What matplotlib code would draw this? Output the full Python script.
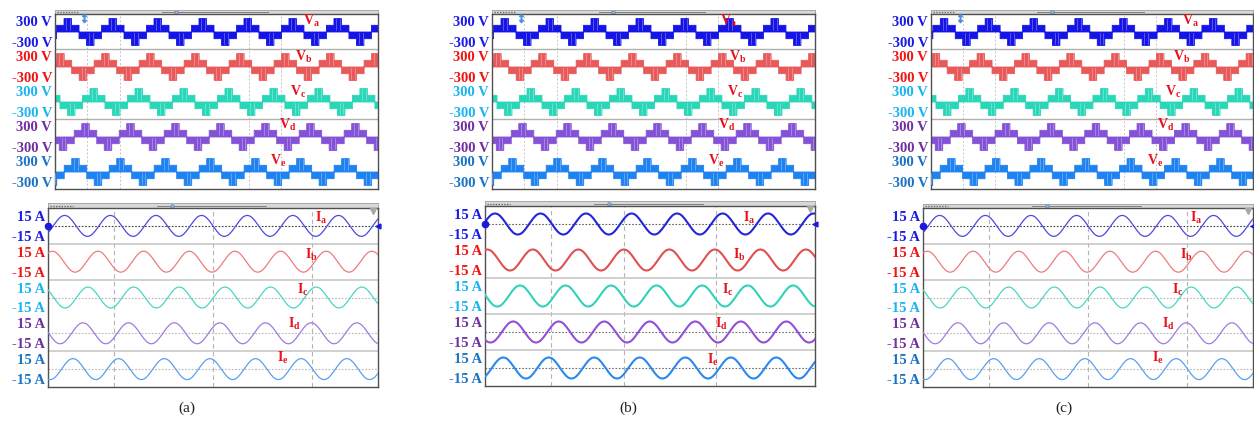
import numpy as np
import matplotlib
matplotlib.use("Agg")
import matplotlib.pyplot as plt
from matplotlib.colors import to_rgb

plt.rcParams['font.family'] = ['Liberation Serif', 'DejaVu Serif']
plt.rcParams['mathtext.fontset'] = 'custom'
plt.rcParams['mathtext.rm'] = 'Liberation Serif'
plt.rcParams['mathtext.bf'] = 'Liberation Serif:bold'

# ------------------------------------------------------------------ data
panel_names = ['(a)', '(b)', '(c)']
phase_names = ['a', 'b', 'c', 'd', 'e']
volt_tick_values = [300, -300]
volt_tick_labels = ['300 V', '-300 V']
curr_tick_values = [15, -15]
curr_tick_labels = ['15 A', '-15 A']

period_ms = 20.0
volt_periods_in_window = [7.18, 7.18, 7.18]
curr_periods_in_window = [7.23, 7.25, 7.23]

# five-level staircase, one fundamental period in 24 slots (levels in units of one cell step)
volt_step_V = 200.0
volt_levels = [1, 1, 1, 1, 2, 2, 2, 2, 1, 1, 1, 1,
               -1, -1, -1, -1, -2, -2, -2, -2, -1, -1, -1, -1]

# phase current, one period sampled every 10 degrees (per unit)
curr_amp_A = 16.0
curr_shape = [0.0, 0.17, 0.34, 0.5, 0.64, 0.77, 0.87, 0.94, 0.98,
              1.0, 0.98, 0.94, 0.87, 0.77, 0.64, 0.5, 0.34, 0.17,
              0.0, -0.17, -0.34, -0.5, -0.64, -0.77, -0.87, -0.94, -0.98,
              -1.0, -0.98, -0.94, -0.87, -0.77, -0.64, -0.5, -0.34, -0.17]

# position of the first positive peak after the left edge (fraction of a period)
volt_peak = {'(a)': [0.273, 0.11, 0.85, 0.667, 0.444],
             '(b)': [0.273, 0.11, 0.85, 0.667, 0.444],
             '(c)': [0.28, 0.10, 0.85, 0.667, 0.444]}
curr_peak = {'(a)': [0.365, 0.095, 0.876, 0.766, 0.547],
             '(b)': [0.22, 0.05, 0.77, 0.62, 0.40],
             '(c)': [0.365, 0.095, 0.876, 0.766, 0.547]}

# ------------------------------------------------------------------ style / layout
W, H = 1254, 422
fig = plt.figure(figsize=(W / 100, H / 100), dpi=100)

label_colors = ['#1a1ae8', '#f01414', '#1ab4f0', '#7030a0', '#1a72c4']
volt_colors = ['#1414e6', '#e85a5a', '#2ad6b8', '#8452d6', '#1e82f0']
curr_colors = {'(a)': ['#4a4ae0', '#ee7c7c', '#4ad6c4', '#a07ae0', '#5aa0ee'],
               '(b)': ['#2424dc', '#e05050', '#30d2b8', '#9050d8', '#2a88ee'],
               '(c)': ['#4a4ae0', '#ee7c7c', '#4ad6c4', '#a07ae0', '#5aa0ee']}
curr_lw = {'(a)': 0.9, '(b)': 1.5, '(c)': 0.9}
name_color = '#e8101a'

volt_band = 1045.0
curr_band = 54.6

# pixel boxes: (left, header_top, plot_top, right, bottom)
volt_box = {'(a)': (55, 10, 14, 378, 189),
            '(b)': (492, 10, 14, 815, 189),
            '(c)': (931, 10, 14, 1253, 189)}
curr_box = {'(a)': (48, 203, 208, 378, 387),
            '(b)': (485, 201, 206, 815, 386),
            '(c)': (923, 204, 208, 1253, 387)}
caption_x = {'(a)': 187, '(b)': 628, '(c)': 1064}

volt_name_xy = {'(a)': [(303, 21), (295, 57), (290, 92), (279, 125), (270, 161)],
                '(b)': [(720, 21), (729, 57), (727, 92), (718, 125), (708, 161)],
                '(c)': [(1182, 21), (1173, 57), (1165, 92), (1157, 125), (1147, 161)]}
curr_name_xy = {'(a)': [(315, 218), (305, 255), (297, 290), (288, 324), (277, 358)],
                '(b)': [(743, 218), (733, 255), (722, 290), (715, 324), (707, 360)],
                '(c)': [(1190, 218), (1180, 255), (1172, 290), (1162, 324), (1152, 358)]}

volt_vgrid = {'(a)': [0.1, 0.2, 0.6, 0.7], '(b)': [0.1, 0.2, 0.6, 0.7], '(c)': [0.1, 0.2, 0.6, 0.7]}
curr_vgrid = {'(a)': [0.2, 0.5, 0.8], '(b)': [0.2, 0.42, 0.7], '(c)': [0.2, 0.5, 0.8]}
volt_hsep = [1, 3]
curr_hsep = {'(a)': [1, 2, 4], '(b)': [2, 3, 4], '(c)': [1, 2, 4]}
curr_zero = {'(a)': [(0, '#404040'), (2, '#b8b8b8'), (3, '#b8b8b8'), (4, '#b8b8b8')],
             '(b)': [(0, '#606060'), (3, '#707070'), (4, '#707070')],
             '(c)': [(0, '#404040'), (2, '#b8b8b8'), (3, '#b8b8b8'), (4, '#b8b8b8')]}


def lighten(c, f):
    r, g, b = to_rgb(c)
    return (r + (1 - r) * f, g + (1 - g) * f, b + (1 - b) * f)


def px_axes(x0, y0, x1, y1):
    return fig.add_axes([x0 / W, 1 - y1 / H, (x1 - x0) / W, (y1 - y0) / H])


def header(x0, y0, y1, x1):
    hx = px_axes(x0, y0, x1, y1)
    hx.set_facecolor('#d8d8d8')
    hx.set_xlim(0, 1)
    hx.set_ylim(0, 1)
    hx.set_xticks([])
    hx.set_yticks([])
    for s in hx.spines.values():
        s.set_color('#a0a0a0')
        s.set_linewidth(0.6)
    hx.plot([0.005, 0.075], [0.5, 0.5], color='#666666', lw=1.0, ls=(0, (1, 1)))
    hx.plot([0.33, 0.66], [0.5, 0.5], color='#808080', lw=0.7)
    hx.plot([0.375], [0.5], marker='o', ms=2.5, mfc='#9ab8e0', mec='#5078b0', mew=0.5)
    return hx


def frame(ax):
    for s in ax.spines.values():
        s.set_color('#505050')
        s.set_linewidth(1.0)
    ax.tick_params(axis='y', length=0, pad=2)
    ax.set_xticks([])


def ticklabels(ax, band, vals, labs, fontsize):
    ticks, texts = [], []
    for i in range(5):
        for v, l in zip(vals, labs):
            ticks.append(-i * band + v)
            texts.append(l)
    ax.set_yticks(ticks)
    ax.set_yticklabels(texts, fontsize=fontsize, fontweight='bold')
    for k, t in enumerate(ax.get_yticklabels()):
        t.set_color(label_colors[k // 2])


for pi, pn in enumerate(panel_names):
    # ----------------------------------------------------------- voltage
    x0, hy, y0, x1, y1 = volt_box[pn]
    header(x0, hy, y0, x1)
    ax = px_axes(x0, y0, x1, y1)
    win = period_ms * volt_periods_in_window[pi]
    ax.set_xlim(0, win)
    ax.set_ylim(-4.5 * volt_band, 0.5 * volt_band)
    frame(ax)
    ticklabels(ax, volt_band, volt_tick_values, volt_tick_labels, 10.5)
    for fx in volt_vgrid[pn]:
        ax.axvline(fx * win, color='#c4c4c4', lw=0.7, ls=(0, (2, 2)), zorder=0)
    for b in volt_hsep:
        ax.axhline(-(b - 0.5) * volt_band, color='#b0b0b0', lw=1.0, zorder=0)
    n = len(volt_levels)
    dt = period_ms / n
    for i in range(5):
        off = -i * volt_band
        p = volt_peak[pn][i]
        ks = np.arange(-2 * n, int(n * (volt_periods_in_window[pi] + 3)))
        t_edges = (ks / n + p - 0.25) * period_ms
        lev = np.array([volt_levels[k % n] for k in ks], dtype=float)
        ax.fill_between(t_edges, off, off + lev * volt_step_V, step='post',
                        facecolor=volt_colors[i], edgecolor=volt_colors[i],
                        lw=0.6, zorder=2)
        # sparse switching streaks inside the outer PWM blocks
        sc = lighten(volt_colors[i], 0.45)
        for k, t in zip(ks, t_edges):
            L = volt_levels[k % n]
            if t < -dt or t > win + dt:
                continue
            if abs(L) == 2 and (k % n) % 2 == 1:
                ax.plot([t + 0.5 * dt] * 2, [off + np.sign(L) * 0.2 * volt_step_V,
                                             off + L * volt_step_V * 0.9],
                        color=sc, lw=0.45, zorder=3)
    for i, (nx, ny) in enumerate(volt_name_xy[pn]):
        fig.text(nx / W, 1 - ny / H, r'$\mathbf{V}_{\mathbf{%s}}$' % phase_names[i],
                 color=name_color, fontsize=10, ha='left', va='center')
    ax.plot([0.09 * win], [0.38 * volt_band], marker=r'$\updownarrow$', ms=6,
            color='#4a90e0', clip_on=False, zorder=5)

    # ----------------------------------------------------------- current
    x0, hy, y0, x1, y1 = curr_box[pn]
    header(x0, hy, y0, x1)
    ax = px_axes(x0, y0, x1, y1)
    win = period_ms * curr_periods_in_window[pi]
    ax.set_xlim(0, win)
    ax.set_ylim(-4.5 * curr_band, 0.5 * curr_band)
    frame(ax)
    ticklabels(ax, curr_band, curr_tick_values, curr_tick_labels, 10.5)
    for fx in curr_vgrid[pn]:
        ax.axvline(fx * win, color='#b4b4b4', lw=0.8, ls=(0, (4, 3)), zorder=0)
    for b in curr_hsep[pn]:
        ax.axhline(-(b - 0.5) * curr_band, color='#c8c8c8', lw=1.2, zorder=0)
    for i, c in curr_zero[pn]:
        ax.axhline(-i * curr_band, color=c, lw=0.8, ls=(0, (1.5, 1.5)), zorder=1)
    m = len(curr_shape)
    for i in range(5):
        off = -i * curr_band
        p = curr_peak[pn][i]
        ks = np.arange(-2 * m, int(m * (curr_periods_in_window[pi] + 3)))
        t = (ks / m + p - 0.25) * period_ms
        y = np.array([curr_shape[k % m] for k in ks]) * curr_amp_A + off
        ax.plot(t, y, color=curr_colors[pn][i], lw=curr_lw[pn], zorder=3)
    ax.plot([0], [0], marker='o', ms=4.5, color='#1a1ae0', clip_on=False, zorder=6)
    ax.plot([win], [0], marker='<', ms=3.5, color='#1a1ae0', clip_on=False, zorder=6)
    ax.plot([win * 0.985], [0.42 * curr_band], marker='v', ms=5, color='#a8a8a8',
            clip_on=False, zorder=6)
    for i, (nx, ny) in enumerate(curr_name_xy[pn]):
        fig.text(nx / W, 1 - ny / H, r'$\mathbf{I}_{\mathbf{%s}}$' % phase_names[i],
                 color=name_color, fontsize=10, ha='left', va='center')

    fig.text(caption_x[pn] / W, 1 - 408 / H, pn, fontsize=11, ha='center', va='center',
             color='#202020')

fig.savefig('out.png', dpi=100)
